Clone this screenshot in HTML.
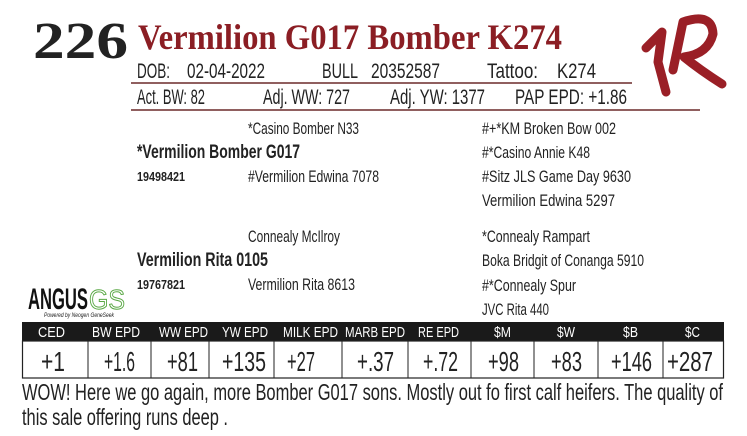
<!DOCTYPE html>
<html><head><meta charset="utf-8"><style>
html,body{margin:0;padding:0;background:#fff;width:747px;height:436px;overflow:hidden}
svg{display:block}
text{font-family:"Liberation Sans Narrow","Liberation Sans",sans-serif;fill:#222}
.s{font-family:"Liberation Serif",serif;font-weight:bold}
</style></head><body>
<svg width="747" height="436" viewBox="0 0 747 436" xmlns="http://www.w3.org/2000/svg">
<text class="s" x="33" y="58" font-size="52" textLength="95" lengthAdjust="spacingAndGlyphs" fill="#1a1a1a">226</text>
<text class="s" x="138" y="49" font-size="36" textLength="424" lengthAdjust="spacingAndGlyphs" style="fill:#8b1e24">Vermilion G017 Bomber K274</text>
<g font-size="21" lengthAdjust="spacingAndGlyphs">
<text x="137" y="78" textLength="33" lengthAdjust="spacingAndGlyphs">DOB:</text>
<text x="187" y="78" textLength="78" lengthAdjust="spacingAndGlyphs">02-04-2022</text>
<text x="322" y="78" textLength="36" lengthAdjust="spacingAndGlyphs">BULL</text>
<text x="371" y="78" textLength="69" lengthAdjust="spacingAndGlyphs">20352587</text>
<text x="487" y="78" textLength="51" lengthAdjust="spacingAndGlyphs">Tattoo:</text>
<text x="557" y="78" textLength="39" lengthAdjust="spacingAndGlyphs">K274</text>
<text x="137" y="104" textLength="68" lengthAdjust="spacingAndGlyphs">Act. BW: 82</text>
<text x="263" y="104" textLength="87" lengthAdjust="spacingAndGlyphs">Adj. WW: 727</text>
<text x="390" y="104" textLength="95" lengthAdjust="spacingAndGlyphs">Adj. YW: 1377</text>
<text x="515" y="104" textLength="112" lengthAdjust="spacingAndGlyphs">PAP EPD: +1.86</text>
</g>
<line x1="131" y1="83" x2="632" y2="83" stroke="#6b2a2a" stroke-width="1.5"/>
<line x1="131" y1="110" x2="700" y2="110" stroke="#6b2a2a" stroke-width="1.5"/>
<g fill="none" stroke="#9a1f26" stroke-linecap="round" stroke-linejoin="round">
<path d="M646 48 L662 32 L658 62 L666 92" stroke-width="9"/>
<path d="M673 70 L683 22 Q712 12 713 34 Q708 54 684 57 Q700 70 722 84" stroke-width="9"/>
</g>
<g font-size="17">
<text x="248" y="134" textLength="111" lengthAdjust="spacingAndGlyphs">*Casino Bomber N33</text>
<text x="137" y="158" font-size="19" font-weight="bold" textLength="163" lengthAdjust="spacingAndGlyphs">*Vermilion Bomber G017</text>
<text x="137" y="181" font-size="13" font-weight="bold" textLength="48" lengthAdjust="spacingAndGlyphs">19498421</text>
<text x="248" y="182" textLength="131" lengthAdjust="spacingAndGlyphs">#Vermilion Edwina 7078</text>
<text x="482" y="134" textLength="134" lengthAdjust="spacingAndGlyphs">#+*KM Broken Bow 002</text>
<text x="482" y="158" textLength="108" lengthAdjust="spacingAndGlyphs">#*Casino Annie K48</text>
<text x="482" y="182" textLength="149" lengthAdjust="spacingAndGlyphs">#Sitz JLS Game Day 9630</text>
<text x="482" y="206" textLength="133" lengthAdjust="spacingAndGlyphs">Vermilion Edwina 5297</text>
<text x="248" y="242" textLength="92" lengthAdjust="spacingAndGlyphs">Connealy McIlroy</text>
<text x="137" y="266" font-size="19" font-weight="bold" textLength="131" lengthAdjust="spacingAndGlyphs">Vermilion Rita 0105</text>
<text x="137" y="289" font-size="13" font-weight="bold" textLength="48" lengthAdjust="spacingAndGlyphs">19767821</text>
<text x="248" y="290" textLength="107" lengthAdjust="spacingAndGlyphs">Vermilion Rita 8613</text>
<text x="482" y="242" textLength="108" lengthAdjust="spacingAndGlyphs">*Connealy Rampart</text>
<text x="482" y="266" textLength="162" lengthAdjust="spacingAndGlyphs">Boka Bridgit of Conanga 5910</text>
<text x="482" y="291" textLength="94" lengthAdjust="spacingAndGlyphs">#*Connealy Spur</text>
<text x="482" y="315" textLength="67" lengthAdjust="spacingAndGlyphs">JVC Rita 440</text>
</g>
<text x="28" y="309" font-size="30" font-weight="bold" textLength="60" lengthAdjust="spacingAndGlyphs" style="fill:#111">ANGUS</text>
<text x="89" y="309" font-size="28" textLength="36" lengthAdjust="spacingAndGlyphs" style="fill:#fff;stroke:#5aa845;stroke-width:1">GS</text>
<text x="44" y="317" font-size="6" font-style="italic" textLength="70" lengthAdjust="spacingAndGlyphs">Powered by Neogen GeneSeek</text>
<rect x="22" y="322" width="702" height="19" fill="#1a1a1a"/>
<rect x="22.5" y="341" width="701" height="37" fill="none" stroke="#222" stroke-width="1.2"/>
<g stroke="#222" stroke-width="1">
<line x1="88" y1="341" x2="88" y2="378"/><line x1="151" y1="341" x2="151" y2="378"/>
<line x1="209" y1="341" x2="209" y2="378"/><line x1="274" y1="341" x2="274" y2="378"/>
<line x1="342" y1="341" x2="342" y2="378"/><line x1="408" y1="341" x2="408" y2="378"/>
<line x1="471" y1="341" x2="471" y2="378"/><line x1="534" y1="341" x2="534" y2="378"/>
<line x1="598" y1="341" x2="598" y2="378"/><line x1="663" y1="341" x2="663" y2="378"/>
</g>
<g font-size="15">
<text x="38" y="337" textLength="27" lengthAdjust="spacingAndGlyphs" style="fill:#fff">CED</text>
<text x="92" y="337" textLength="48" lengthAdjust="spacingAndGlyphs" style="fill:#fff">BW EPD</text>
<text x="159" y="337" textLength="49" lengthAdjust="spacingAndGlyphs" style="fill:#fff">WW EPD</text>
<text x="222" y="337" textLength="46" lengthAdjust="spacingAndGlyphs" style="fill:#fff">YW EPD</text>
<text x="283" y="337" textLength="55" lengthAdjust="spacingAndGlyphs" style="fill:#fff">MILK EPD</text>
<text x="345" y="337" textLength="60" lengthAdjust="spacingAndGlyphs" style="fill:#fff">MARB EPD</text>
<text x="418" y="337" textLength="41" lengthAdjust="spacingAndGlyphs" style="fill:#fff">RE EPD</text>
<text x="494" y="337" textLength="17" lengthAdjust="spacingAndGlyphs" style="fill:#fff">$M</text>
<text x="557" y="337" textLength="18" lengthAdjust="spacingAndGlyphs" style="fill:#fff">$W</text>
<text x="623" y="337" textLength="15" lengthAdjust="spacingAndGlyphs" style="fill:#fff">$B</text>
<text x="685" y="337" textLength="15" lengthAdjust="spacingAndGlyphs" style="fill:#fff">$C</text>
</g>
<g font-size="28">
<text x="41" y="371" textLength="24" lengthAdjust="spacingAndGlyphs">+1</text>
<text x="104" y="371" textLength="31" lengthAdjust="spacingAndGlyphs">+1.6</text>
<text x="167" y="371" textLength="31" lengthAdjust="spacingAndGlyphs">+81</text>
<text x="222" y="371" textLength="44" lengthAdjust="spacingAndGlyphs">+135</text>
<text x="287" y="371" textLength="28" lengthAdjust="spacingAndGlyphs">+27</text>
<text x="357" y="371" textLength="37" lengthAdjust="spacingAndGlyphs">+.37</text>
<text x="423" y="371" textLength="35" lengthAdjust="spacingAndGlyphs">+.72</text>
<text x="488" y="371" textLength="31" lengthAdjust="spacingAndGlyphs">+98</text>
<text x="551" y="371" textLength="31" lengthAdjust="spacingAndGlyphs">+83</text>
<text x="611" y="371" textLength="41" lengthAdjust="spacingAndGlyphs">+146</text>
<text x="667" y="371" textLength="46" lengthAdjust="spacingAndGlyphs">+287</text>
</g>
<text x="22" y="400" font-size="23" textLength="701" lengthAdjust="spacingAndGlyphs">WOW!  Here we go again, more Bomber G017 sons. Mostly out fo first calf heifers. The quality of</text>
<text x="22" y="425" font-size="23" textLength="206" lengthAdjust="spacingAndGlyphs">this sale offering runs deep .</text>
</svg>
</body></html>
